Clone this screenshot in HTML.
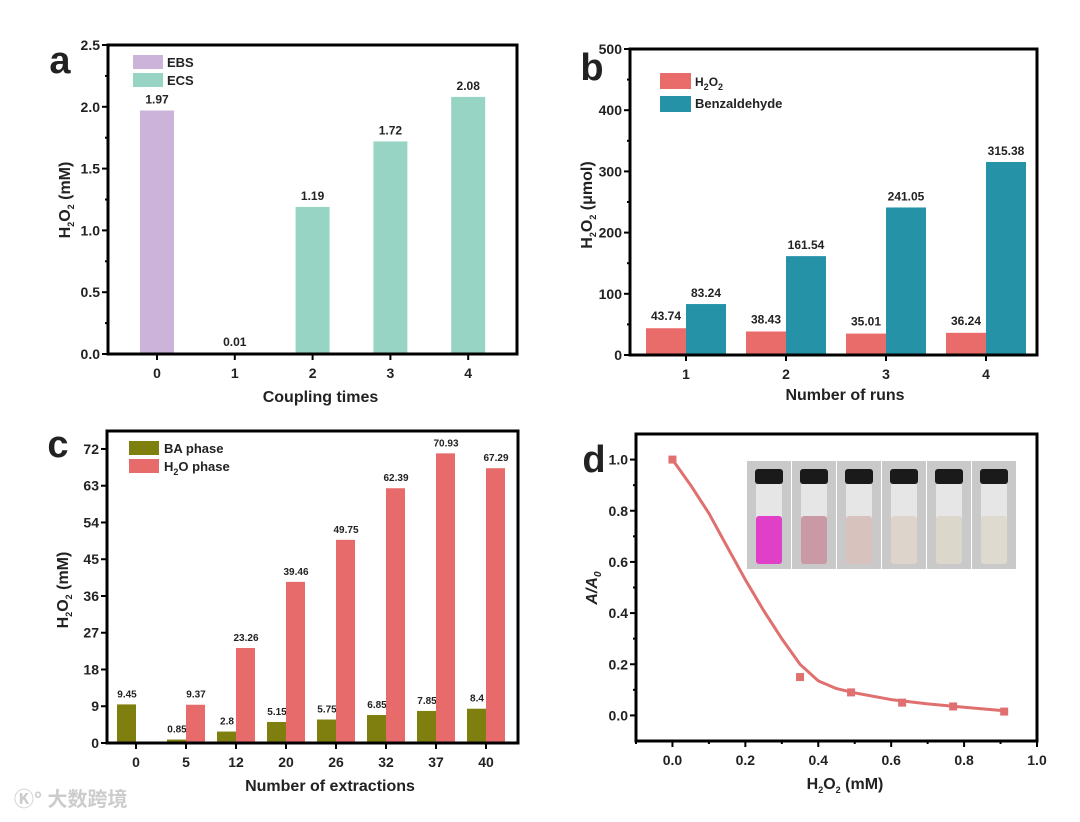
<!DOCTYPE html>
<html><head><meta charset="utf-8"><style>
body{margin:0;background:#fff;width:1080px;height:817px;overflow:hidden;font-family:"Liberation Sans",Arial,sans-serif}
svg text{font-family:"Liberation Sans",Arial,sans-serif;font-weight:bold;fill:#222}
</style></head><body>
<svg id="fig" width="1080" height="817" xmlns="http://www.w3.org/2000/svg"></svg>
<script>
// Panel a data
const aCats=["0","1","2","3","4"];
const aVals=[1.97,0.01,1.19,1.72,2.08];
const aSeries=["EBS","ECS","ECS","ECS","ECS"];
const aTicks=[0,0.5,1.0,1.5,2.0,2.5];
// Panel b data
const bCats=["1","2","3","4"];
const bH2O2=[43.74,38.43,35.01,36.24];
const bBenz=[83.24,161.54,241.05,315.38];
const bTicks=[0,100,200,300,400,500];
// Panel c data
const cCats=["0","5","12","20","26","32","37","40"];
const cBA=[9.45,0.85,2.8,5.15,5.75,6.85,7.85,8.4];
const cH2O=[null,9.37,23.26,39.46,49.75,62.39,70.93,67.29];
const cBALbl=["9.45","0.85","2.8","5.15","5.75","6.85","7.85","8.4"];
const cTicks=[0,9,18,27,36,45,54,63,72];
// Panel d data
const dX=[0,0.35,0.49,0.63,0.77,0.91];
const dY=[1.0,0.15,0.09,0.05,0.035,0.015];
const fitX=[0,0.05,0.1,0.15,0.2,0.25,0.3,0.35,0.4,0.45,0.5,0.6,0.7,0.8,0.91];
const fitY=[1.0,0.9,0.79,0.66,0.53,0.41,0.3,0.2,0.135,0.105,0.088,0.062,0.045,0.032,0.018];
const dXTicks=[0,0.2,0.4,0.6,0.8,1.0];
const dYTicks=[0,0.2,0.4,0.6,0.8,1.0];

const NS="http://www.w3.org/2000/svg";
const svg=document.getElementById('fig');
function mk(tag,attrs,parent,txt){const e=document.createElementNS(NS,tag);for(const k in attrs)e.setAttribute(k,attrs[k]);if(txt!==undefined)e.textContent=txt;(parent||svg).appendChild(e);return e;}
function lin(d0,d1,r0,r1){return v=>r0+(v-d0)*(r1-r0)/(d1-d0);}
function frame(g,L,T,R,B){const f=mk('rect',{x:L,y:T,width:R-L,height:B-T,fill:'none',stroke:'#000','stroke-width':3},g);}
function yAxis(g,ticks,y,L,fmt,minor){ticks.forEach((t,i)=>{const yy=y(t);mk('line',{x1:L-6,y1:yy,x2:L,y2:yy,stroke:'#000','stroke-width':2},g);const tx=mk('text',{x:L-8,y:yy+5,'text-anchor':'end','font-size':14},g,fmt(t));if(minor&&i<ticks.length-1){const m=y((t+ticks[i+1])/2);mk('line',{x1:L-3,y1:m,x2:L,y2:m,stroke:'#000','stroke-width':2},g);}});}
function txt(g,x,y,s,size,name,anchor,rot){const t=mk('text',{x:x,y:y,'font-size':size,'text-anchor':anchor||'middle'},g);if(rot)t.setAttribute('transform',`rotate(-90 ${x} ${y})`);t.innerHTML=s;return t;}
function rect(g,x,y,w,h,fill,name){const r=mk('rect',{x:x,y:y,width:w,height:Math.max(h,0),fill:fill},g);return r;}
const sub='<tspan font-size="9" dy="4">2</tspan><tspan dy="-4">';

// ---- Panel a
(function(){const g=mk('g',{});
const L=108,T=45,R=517,B=354;const y=lin(0,2.5,B,T);const x=i=>157+i*77.8;
aVals.forEach((v,i)=>{const c=aSeries[i]==='EBS'?'#cbb3da':'#98d4c4';rect(g,x(i)-17,y(v),34,B-y(v),c,'bar-a-'+aCats[i]);txt(g,x(i),y(v)-7,v.toFixed(2),12,'bar-value-label');});
frame(g,L,T,R,B);yAxis(g,aTicks,y,L,t=>t.toFixed(1),true);
aCats.forEach((c,i)=>{mk('line',{x1:x(i),y1:B,x2:x(i),y2:B+6,stroke:'#000','stroke-width':2},g);txt(g,x(i),B+24,c,14,'x-tick-label');});
txt(g,(L+R)/2+8,402,'Coupling times',16,'x-axis-title');
txt(g,70,200,'H'+sub+'O'+sub+' (mM)</tspan></tspan>',16,'y-axis-title','middle',true);
txt(g,60,73,'a',38,'panel-label');
rect(g,133,55,30,14,'#cbb3da','legend-swatch-ebs');txt(g,167,67,'EBS',13,'legend-label','start');
rect(g,133,73,30,14,'#98d4c4','legend-swatch-ecs');txt(g,167,85,'ECS',13,'legend-label','start');})();

// ---- Panel b
(function(){const g=mk('g',{});
const L=630,T=49,R=1037,B=355;const y=lin(0,500,B,T);const x=i=>686+i*100;
bCats.forEach((c,i)=>{rect(g,x(i)-40,y(bH2O2[i]),40,B-y(bH2O2[i]),'#e96b6a','bar-h2o2-'+c);rect(g,x(i),y(bBenz[i]),40,B-y(bBenz[i]),'#2592a8','bar-benzaldehyde-'+c);
txt(g,x(i)-20,y(bH2O2[i])-8,bH2O2[i].toFixed(2),12,'bar-value-label');txt(g,x(i)+20,y(bBenz[i])-7,bBenz[i].toFixed(2),12,'bar-value-label');});
frame(g,L,T,R,B);yAxis(g,bTicks,y,L,t=>String(t),true);
bCats.forEach((c,i)=>{mk('line',{x1:x(i),y1:B,x2:x(i),y2:B+6,stroke:'#000','stroke-width':2},g);txt(g,x(i),B+24,c,14,'x-tick-label');});
txt(g,845,400,'Number of runs',16,'x-axis-title');
txt(g,592,205,'H'+sub+'O'+sub+' (μmol)</tspan></tspan>',16,'y-axis-title','middle',true);
txt(g,592,80,'b',38,'panel-label');
rect(g,660,73,31,16,'#e96b6a','legend-swatch-h2o2');txt(g,695,86,'H'+sub+'O'+sub+'</tspan></tspan>',12,'legend-label','start');
rect(g,660,96,31,16,'#2592a8','legend-swatch-benzaldehyde');txt(g,695,108,'Benzaldehyde',13,'legend-label','start');})();

// ---- Panel c
(function(){const g=mk('g',{});
const L=107,T=431,R=518,B=743;const y=lin(0,76.4,B,T);const x=i=>136+i*50;
cCats.forEach((c,i)=>{rect(g,x(i)-19,y(cBA[i]),19,B-y(cBA[i]),'#7f7f10','bar-ba-'+c);txt(g,x(i)-9,y(cBA[i])-7,cBALbl[i],10,'bar-value-label');
if(cH2O[i]!==null){rect(g,x(i),y(cH2O[i]),19,B-y(cH2O[i]),'#e86b6b','bar-h2o-'+c);txt(g,x(i)+10,y(cH2O[i])-7,cH2O[i].toFixed(2),10,'bar-value-label');}});
frame(g,L,T,R,B);yAxis(g,cTicks,y,L,t=>String(t),false);
cCats.forEach((c,i)=>{mk('line',{x1:x(i),y1:B,x2:x(i),y2:B+6,stroke:'#000','stroke-width':2},g);txt(g,x(i),B+24,c,14,'x-tick-label');});
txt(g,330,791,'Number of extractions',16,'x-axis-title');
txt(g,68,590,'H'+sub+'O'+sub+'  (mM)</tspan></tspan>',16,'y-axis-title','middle',true);
txt(g,58,457,'c',38,'panel-label');
rect(g,129,441,30,14,'#7f7f10','legend-swatch-ba');txt(g,164,453,'BA phase',13,'legend-label','start');
rect(g,129,459,30,14,'#e86b6b','legend-swatch-h2o');txt(g,164,471,'H'+sub+'O phase</tspan></tspan>',13,'legend-label','start');
txt(g,14,806,'Ⓚ° 大数跨境',20,'watermark','start').setAttribute('style','fill:#ccc;font-family:"Liberation Sans","Noto Sans CJK SC",sans-serif');})();

// ---- Panel d
(function(){const g=mk('g',{});
const L=636,T=434,R=1037,B=741;const x=lin(-0.1,1.0,L,R);const y=lin(-0.1,1.1,B,T);
frame(g,L,T,R,B);yAxis(g,dYTicks,y,L,t=>t.toFixed(1),true);
dXTicks.forEach((t,i)=>{mk('line',{x1:x(t),y1:B,x2:x(t),y2:B+6,stroke:'#000','stroke-width':2},g);txt(g,x(t),B+24,t.toFixed(1),14,'x-tick-label');if(i<dXTicks.length-1){mk('line',{x1:x(t+0.1),y1:B,x2:x(t+0.1),y2:B+3,stroke:'#000','stroke-width':2},g);}});
mk('line',{x1:x(-0.1),y1:B,x2:x(-0.1),y2:B+3,stroke:'#000','stroke-width':2},g);
// inset
const ins=mk('g',{},g);
const liq=['#e040c8','#c99aa6','#d7c2bd','#ddd5cb','#dcd7cb','#dedad0'];
liq.forEach((c,i)=>{const x0=747+i*45;mk('rect',{x:x0,y:461,width:44,height:108,fill:'#c9c9c9'},ins);mk('rect',{x:x0+9,y:482,width:26,height:82,rx:4,fill:'#e6e6e6'},ins);mk('rect',{x:x0+9,y:516,width:26,height:48,rx:3,fill:c},ins);mk('rect',{x:x0+8,y:469,width:28,height:15,rx:3,fill:'#1a1a1a'},ins);});
let p='';fitX.forEach((v,i)=>{p+=(i?'L':'M')+x(v).toFixed(1)+','+y(fitY[i]).toFixed(1);});
const ln=mk('path',{d:p,fill:'none',stroke:'#e07070','stroke-width':3,'stroke-linejoin':'round'},g);
dX.forEach((v,i)=>{const r=mk('rect',{x:x(v)-4,y:y(dY[i])-4,width:8,height:8,fill:'#e07070'},g);});
txt(g,845,789,'H'+sub+'O'+sub+' (mM)</tspan></tspan>',16,'x-axis-title');
txt(g,597,588,'<tspan font-style="italic">A/A</tspan><tspan font-size="10" dy="4" font-style="italic">0</tspan>',16,'y-axis-title','middle',true);
txt(g,594,472,'d',38,'panel-label');})();
</script>
</body></html>
